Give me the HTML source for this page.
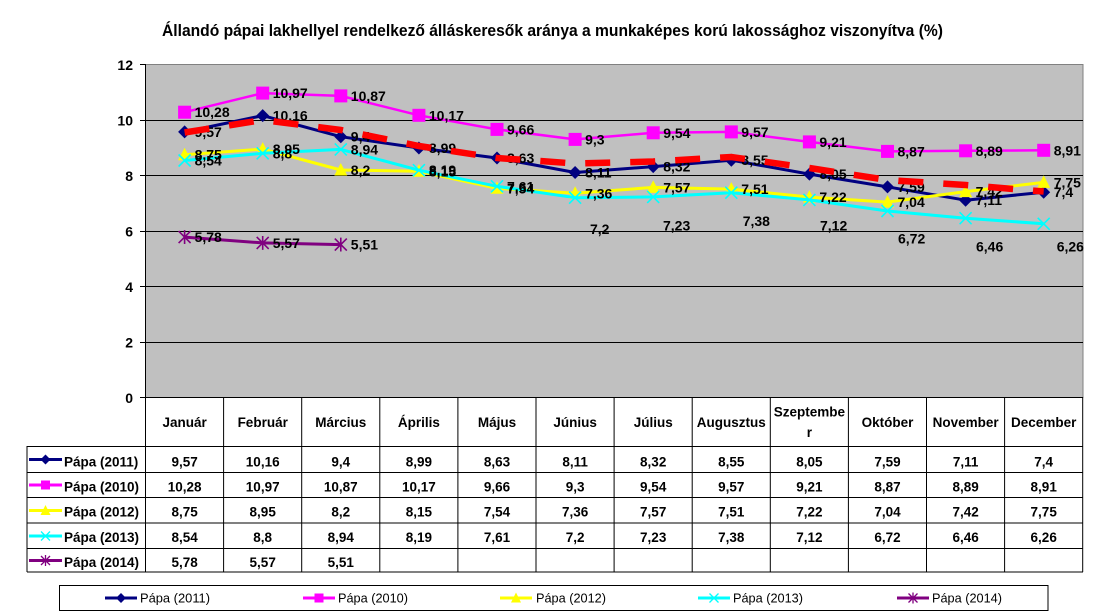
<!DOCTYPE html>
<html><head><meta charset="utf-8"><style>
html,body{margin:0;padding:0;background:#fff;}
svg{display:block;}
text{font-family:"Liberation Sans",sans-serif;}
</style></head><body>
<svg width="1113" height="612" viewBox="0 0 1113 612" xmlns="http://www.w3.org/2000/svg">
<defs>
<marker id="md" markerWidth="14" markerHeight="14" refX="7" refY="7" markerUnits="userSpaceOnUse"><path d="M7 0.5 L13.5 7 L7 13.5 L0.5 7Z" fill="#000080"/></marker>
<marker id="ms" markerWidth="14" markerHeight="14" refX="7" refY="7" markerUnits="userSpaceOnUse"><rect x="0.5" y="0.5" width="13" height="13" fill="#FF00FF"/></marker>
<marker id="mt" markerWidth="14" markerHeight="14" refX="7" refY="7.5" markerUnits="userSpaceOnUse"><path d="M7 0.5 L13.5 13 L0.5 13Z" fill="#FFFF00"/></marker>
<marker id="mx" markerWidth="14" markerHeight="14" refX="7" refY="7" markerUnits="userSpaceOnUse"><path d="M1 1 L13 13 M13 1 L1 13" stroke="#00FFFF" stroke-width="1.6"/></marker>
<marker id="mk" markerWidth="14" markerHeight="14" refX="7" refY="7" markerUnits="userSpaceOnUse"><path d="M1 1 L13 13 M13 1 L1 13 M7 0 L7 14" stroke="#800080" stroke-width="1.6"/></marker>
<marker id="sd" markerWidth="12" markerHeight="12" refX="6" refY="6" markerUnits="userSpaceOnUse"><path d="M6 1 L11 6 L6 11 L1 6Z" fill="#000080"/></marker>
<marker id="ss" markerWidth="12" markerHeight="12" refX="6" refY="6" markerUnits="userSpaceOnUse"><rect x="1.5" y="1.5" width="9" height="9" fill="#FF00FF"/></marker>
<marker id="st" markerWidth="12" markerHeight="12" refX="6" refY="6.5" markerUnits="userSpaceOnUse"><path d="M6 1 L11 11 L1 11Z" fill="#FFFF00"/></marker>
<marker id="sx" markerWidth="12" markerHeight="12" refX="6" refY="6" markerUnits="userSpaceOnUse"><path d="M1.5 1.5 L10.5 10.5 M10.5 1.5 L1.5 10.5" stroke="#00FFFF" stroke-width="1.3"/></marker>
<marker id="sk" markerWidth="12" markerHeight="12" refX="6" refY="6" markerUnits="userSpaceOnUse"><path d="M1.5 1.5 L10.5 10.5 M10.5 1.5 L1.5 10.5 M6 0.5 L6 11.5" stroke="#800080" stroke-width="1.3"/></marker>
</defs>

<!-- Title -->
<text x="162" y="36" font-size="16.5" font-weight="bold" textLength="781" lengthAdjust="spacingAndGlyphs">Állandó pápai lakhellyel rendelkező álláskeresők aránya a munkaképes korú lakossághoz viszonyítva (%)</text>

<!-- Plot area -->
<rect x="145.5" y="64.5" width="937.5" height="333" fill="#C0C0C0" stroke="#808080" stroke-width="1"/>
<g stroke="#000" stroke-width="1">
<line x1="145.5" y1="120.5" x2="1083" y2="120.5"/>
<line x1="145.5" y1="175.5" x2="1083" y2="175.5"/>
<line x1="145.5" y1="231.5" x2="1083" y2="231.5"/>
<line x1="145.5" y1="286.5" x2="1083" y2="286.5"/>
<line x1="145.5" y1="342.5" x2="1083" y2="342.5"/>
<line x1="145.5" y1="64" x2="145.5" y2="572"/>
<line x1="140" y1="64.5" x2="145.5" y2="64.5"/>
<line x1="140" y1="120.5" x2="145.5" y2="120.5"/>
<line x1="140" y1="175.5" x2="145.5" y2="175.5"/>
<line x1="140" y1="231.5" x2="145.5" y2="231.5"/>
<line x1="140" y1="286.5" x2="145.5" y2="286.5"/>
<line x1="140" y1="342.5" x2="145.5" y2="342.5"/>
<line x1="140" y1="397.5" x2="1083" y2="397.5"/>
</g>
<g font-size="14" font-weight="bold" text-anchor="end" fill="#000">
<text x="133" y="70">12</text>
<text x="133" y="125.5">10</text>
<text x="133" y="181">8</text>
<text x="133" y="236.5">6</text>
<text x="133" y="292">4</text>
<text x="133" y="347.5">2</text>
<text x="133" y="403">0</text>
</g>

<!-- Series -->
<g fill="none" stroke-linejoin="round">
<polyline stroke="#000080" stroke-width="3" marker-start="url(#md)" marker-mid="url(#md)" marker-end="url(#md)" points="184.6,131.9 262.7,115.6 340.8,136.7 418.9,148.0 497,158.0 575.1,172.5 653.2,166.6 731.3,160.2 809.4,174.1 887.5,186.9 965.6,200.2 1043.7,192.2"/>
<polyline stroke="#FF00FF" stroke-width="2.5" marker-start="url(#ms)" marker-mid="url(#ms)" marker-end="url(#ms)" points="184.6,112.2 262.7,93.1 340.8,95.9 418.9,115.3 497,129.4 575.1,139.4 653.2,132.8 731.3,131.9 809.4,141.9 887.5,151.4 965.6,150.8 1043.7,150.3"/>
<polyline stroke="#FFFF00" stroke-width="3" marker-start="url(#mt)" marker-mid="url(#mt)" marker-end="url(#mt)" points="184.6,154.7 262.7,149.1 340.8,170.0 418.9,171.3 497,188.3 575.1,193.3 653.2,187.4 731.3,189.1 809.4,197.1 887.5,202.1 965.6,191.6 1043.7,182.4"/>
<polyline stroke="#00FFFF" stroke-width="3" marker-start="url(#mx)" marker-mid="url(#mx)" marker-end="url(#mx)" points="184.6,160.5 262.7,153.3 340.8,149.4 418.9,170.2 497,186.3 575.1,197.7 653.2,196.9 731.3,192.7 809.4,199.9 887.5,211.0 965.6,218.2 1043.7,223.8"/>
<polyline stroke="#800080" stroke-width="3" marker-start="url(#mk)" marker-mid="url(#mk)" marker-end="url(#mk)" points="184.6,237.1 262.7,242.9 340.8,244.6"/>
</g>

<!-- Data labels -->
<g font-size="14" font-weight="bold" fill="#000">
<text x="194.6" y="136.9">9,57</text><text x="272.7" y="120.6">10,16</text><text x="350.8" y="141.7">9,4</text><text x="428.9" y="153">8,99</text><text x="507" y="163">8,63</text><text x="585.1" y="177.5">8,11</text><text x="663.2" y="171.6">8,32</text><text x="741.3" y="165.2">8,55</text><text x="819.4" y="179.1">8,05</text><text x="897.5" y="191.9">7,59</text><text x="975.6" y="205.2">7,11</text><text x="1053.7" y="197.2">7,4</text>
<text x="194.6" y="117.2">10,28</text><text x="272.7" y="98.1">10,97</text><text x="350.8" y="100.9">10,87</text><text x="428.9" y="120.3">10,17</text><text x="507" y="134.4">9,66</text><text x="585.1" y="144.4">9,3</text><text x="663.2" y="137.8">9,54</text><text x="741.3" y="136.9">9,57</text><text x="819.4" y="146.9">9,21</text><text x="897.5" y="156.4">8,87</text><text x="975.6" y="155.8">8,89</text><text x="1053.7" y="155.3">8,91</text>
<text x="194.6" y="159.7">8,75</text><text x="272.7" y="154.1">8,95</text><text x="350.8" y="175">8,2</text><text x="428.9" y="176.3">8,15</text><text x="507" y="193.3">7,54</text><text x="585.1" y="198.3">7,36</text><text x="663.2" y="192.4">7,57</text><text x="741.3" y="194.1">7,51</text><text x="819.4" y="202.1">7,22</text><text x="897.5" y="207.1">7,04</text><text x="975.6" y="196.6">7,42</text><text x="1053.7" y="187.4">7,75</text>
<text x="194.6" y="165.5">8,54</text><text x="272.7" y="158.3">8,8</text><text x="350.8" y="154.4">8,94</text><text x="428.9" y="175.2">8,19</text><text x="507" y="191.3">7,61</text><text x="590" y="234">7,2</text><text x="663" y="230.7">7,23</text><text x="742.7" y="226">7,38</text><text x="820" y="230.7">7,12</text><text x="898" y="243.3">6,72</text><text x="976" y="251.7">6,46</text><text x="1056.7" y="251.7">6,26</text>
<text x="194.6" y="242.1">5,78</text><text x="272.7" y="247.9">5,57</text><text x="350.8" y="249.6">5,51</text>
</g>

<!-- Trendline -->
<polyline fill="none" stroke="#FF0000" stroke-width="6.5" stroke-dasharray="25 20" points="184.6,132.5 262.7,120 340.8,130 418.9,146 497,158 575.1,163.5 653.2,161.5 731.3,157 809.4,168 887.5,180 965.6,185 1043.7,191.5"/>

<!-- Data table grid -->
<g stroke="#000" stroke-width="1">
<line x1="223.6" y1="397.5" x2="223.6" y2="572"/>
<line x1="301.7" y1="397.5" x2="301.7" y2="572"/>
<line x1="379.8" y1="397.5" x2="379.8" y2="572"/>
<line x1="457.9" y1="397.5" x2="457.9" y2="572"/>
<line x1="536" y1="397.5" x2="536" y2="572"/>
<line x1="614.1" y1="397.5" x2="614.1" y2="572"/>
<line x1="692.2" y1="397.5" x2="692.2" y2="572"/>
<line x1="770.3" y1="397.5" x2="770.3" y2="572"/>
<line x1="848.4" y1="397.5" x2="848.4" y2="572"/>
<line x1="926.5" y1="397.5" x2="926.5" y2="572"/>
<line x1="1004.6" y1="397.5" x2="1004.6" y2="572"/>
<line x1="1082.7" y1="397.5" x2="1082.7" y2="572"/>
<line x1="27" y1="446" x2="27" y2="572"/>
<line x1="27" y1="446.5" x2="1083" y2="446.5"/>
<line x1="27" y1="472.5" x2="1083" y2="472.5"/>
<line x1="27" y1="497.5" x2="1083" y2="497.5"/>
<line x1="27" y1="523" x2="1083" y2="523"/>
<line x1="27" y1="548.5" x2="1083" y2="548.5"/>
<line x1="27" y1="572" x2="1083" y2="572"/>
</g>
<g font-size="13.5" font-weight="bold" text-anchor="middle" fill="#000">
<text x="184.6" y="427">Január</text><text x="262.7" y="427">Február</text><text x="340.8" y="427">Március</text><text x="418.9" y="427">Április</text><text x="497" y="427">Május</text><text x="575.1" y="427">Június</text><text x="653.2" y="427">Július</text><text x="731.3" y="427">Augusztus</text><text x="809.4" y="416.5">Szeptembe</text><text x="809.4" y="437">r</text><text x="887.5" y="427">Október</text><text x="965.6" y="427">November</text><text x="1043.7" y="427">December</text>
<text x="184.6" y="466.5">9,57</text><text x="262.7" y="466.5">10,16</text><text x="340.8" y="466.5">9,4</text><text x="418.9" y="466.5">8,99</text><text x="497" y="466.5">8,63</text><text x="575.1" y="466.5">8,11</text><text x="653.2" y="466.5">8,32</text><text x="731.3" y="466.5">8,55</text><text x="809.4" y="466.5">8,05</text><text x="887.5" y="466.5">7,59</text><text x="965.6" y="466.5">7,11</text><text x="1043.7" y="466.5">7,4</text>
<text x="184.6" y="491.5">10,28</text><text x="262.7" y="491.5">10,97</text><text x="340.8" y="491.5">10,87</text><text x="418.9" y="491.5">10,17</text><text x="497" y="491.5">9,66</text><text x="575.1" y="491.5">9,3</text><text x="653.2" y="491.5">9,54</text><text x="731.3" y="491.5">9,57</text><text x="809.4" y="491.5">9,21</text><text x="887.5" y="491.5">8,87</text><text x="965.6" y="491.5">8,89</text><text x="1043.7" y="491.5">8,91</text>
<text x="184.6" y="516.5">8,75</text><text x="262.7" y="516.5">8,95</text><text x="340.8" y="516.5">8,2</text><text x="418.9" y="516.5">8,15</text><text x="497" y="516.5">7,54</text><text x="575.1" y="516.5">7,36</text><text x="653.2" y="516.5">7,57</text><text x="731.3" y="516.5">7,51</text><text x="809.4" y="516.5">7,22</text><text x="887.5" y="516.5">7,04</text><text x="965.6" y="516.5">7,42</text><text x="1043.7" y="516.5">7,75</text>
<text x="184.6" y="542">8,54</text><text x="262.7" y="542">8,8</text><text x="340.8" y="542">8,94</text><text x="418.9" y="542">8,19</text><text x="497" y="542">7,61</text><text x="575.1" y="542">7,2</text><text x="653.2" y="542">7,23</text><text x="731.3" y="542">7,38</text><text x="809.4" y="542">7,12</text><text x="887.5" y="542">6,72</text><text x="965.6" y="542">6,46</text><text x="1043.7" y="542">6,26</text>
<text x="184.6" y="567">5,78</text><text x="262.7" y="567">5,57</text><text x="340.8" y="567">5,51</text>
</g>
<!-- row headers -->
<g fill="none" stroke-width="3">
<polyline stroke="#000080" marker-mid="url(#sd)" points="29,459.5 45.5,459.5 62,459.5"/>
<polyline stroke="#FF00FF" marker-mid="url(#ss)" points="29,485 45.5,485 62,485"/>
<polyline stroke="#FFFF00" marker-mid="url(#st)" points="29,510.5 45.5,510.5 62,510.5"/>
<polyline stroke="#00FFFF" marker-mid="url(#sx)" points="29,536 45.5,536 62,536"/>
<polyline stroke="#800080" marker-mid="url(#sk)" points="29,560.5 45.5,560.5 62,560.5"/>
</g>
<g font-size="13.5" font-weight="bold" fill="#000">
<text x="64" y="466.5">Pápa (2011)</text>
<text x="64" y="491.5">Pápa (2010)</text>
<text x="64" y="516.5">Pápa (2012)</text>
<text x="64" y="542">Pápa (2013)</text>
<text x="64" y="567">Pápa (2014)</text>
</g>

<!-- Legend -->
<rect x="59.5" y="585.5" width="988.5" height="25" fill="#fff" stroke="#000" stroke-width="1"/>
<g fill="none" stroke-width="3">
<polyline stroke="#000080" marker-mid="url(#sd)" points="105,598 121,598 137,598"/>
<polyline stroke="#FF00FF" marker-mid="url(#ss)" points="303,598 319,598 335,598"/>
<polyline stroke="#FFFF00" marker-mid="url(#st)" points="500,598 516,598 532,598"/>
<polyline stroke="#00FFFF" marker-mid="url(#sx)" points="698,598 714,598 730,598"/>
<polyline stroke="#800080" marker-mid="url(#sk)" points="897,598 913,598 929,598"/>
</g>
<g font-size="13" fill="#000">
<text x="140" y="602.5" textLength="70" lengthAdjust="spacingAndGlyphs">Pápa (2011)</text>
<text x="338" y="602.5" textLength="70" lengthAdjust="spacingAndGlyphs">Pápa (2010)</text>
<text x="536" y="602.5" textLength="70" lengthAdjust="spacingAndGlyphs">Pápa (2012)</text>
<text x="733" y="602.5" textLength="70" lengthAdjust="spacingAndGlyphs">Pápa (2013)</text>
<text x="932" y="602.5" textLength="70" lengthAdjust="spacingAndGlyphs">Pápa (2014)</text>
</g>
</svg>
</body></html>
